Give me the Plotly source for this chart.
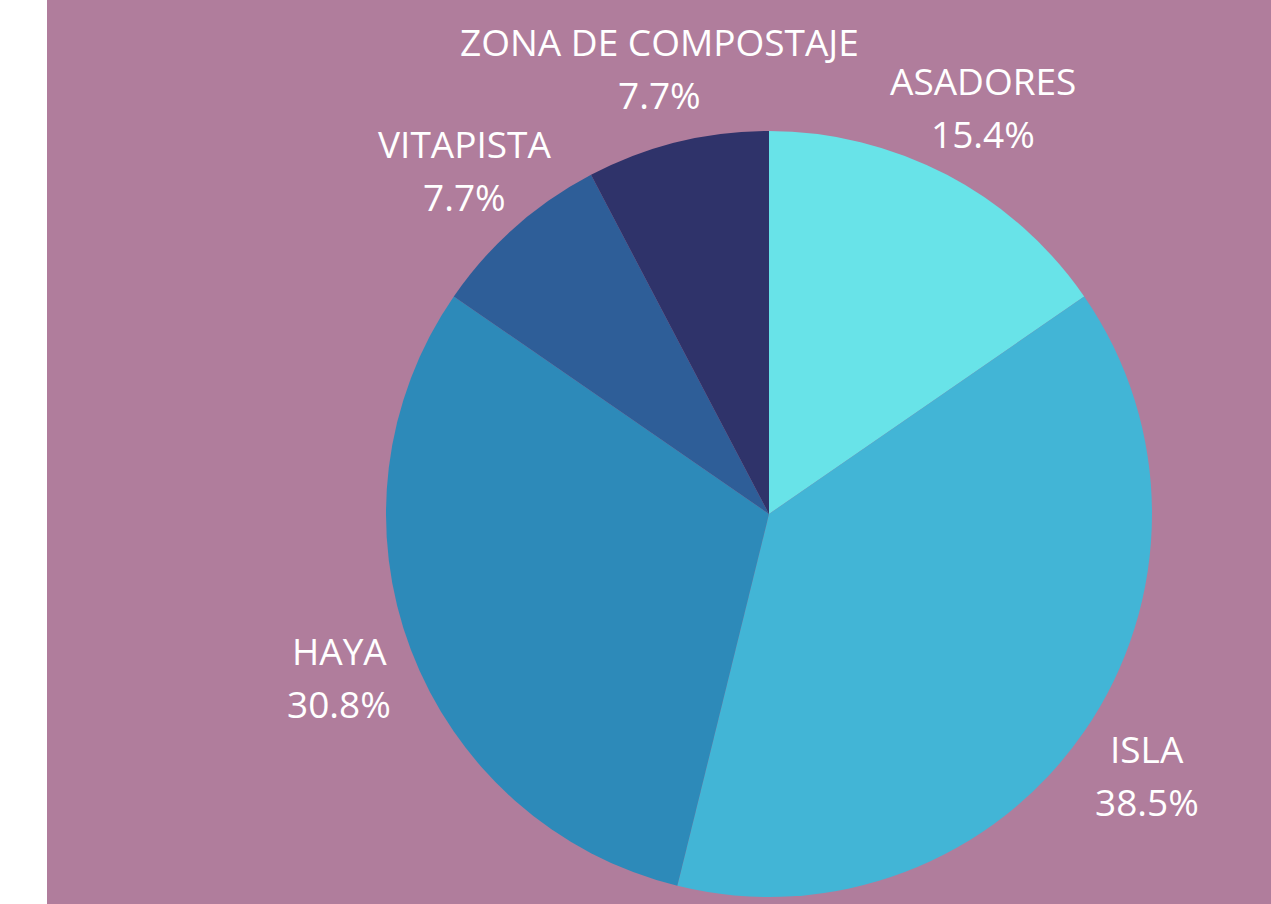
import math
import plotly.graph_objects as go

# ---- data ----
labels = ["ASADORES", "ISLA", "HAYA", "VITAPISTA", "ZONA DE COMPOSTAJE"]
values = [2, 5, 4, 1, 1]
colors = ["#68E3E8", "#42B5D6", "#2D8AB9", "#2E5E98", "#2F336A"]

# ---- layout geometry (pixels) ----
W, H = 1271, 904
ML = 47
PW, PH = W - ML, H
CX, CY, R = 769, 514, 383
LABEL_FACTOR = 1.2
LINE_OFF = 26.5
BG = "#B07D9C"
FONT = "Open Sans"
FONT_SIZE = 37

fig = go.Figure(
    go.Pie(
        labels=labels,
        values=values,
        marker=dict(colors=colors, line=dict(width=0)),
        sort=False,
        direction="clockwise",
        rotation=0,
        textinfo="none",
        hoverinfo="label+percent",
        showlegend=False,
        domain=dict(
            x=[(CX - ML) / PW - 0.4, (CX - ML) / PW + 0.4],
            y=[(H - (CY + R)) / PH, (H - (CY - R)) / PH],
        ),
    )
)

total = sum(values)
annotations = []
cum = 0
for lab, v in zip(labels, values):
    theta = 2 * math.pi * (cum + v / 2) / total
    cum += v
    d = R * LABEL_FACTOR
    lx = CX + d * math.sin(theta)
    ly = CY - d * math.cos(theta)
    pct = f"{100 * v / total:.1f}%"
    for txt, yy in ((lab, ly - LINE_OFF), (pct, ly + LINE_OFF)):
        annotations.append(
            dict(
                text=txt,
                x=(lx - ML) / PW,
                y=(H - yy) / PH,
                xref="paper",
                yref="paper",
                xanchor="center",
                yanchor="middle",
                showarrow=False,
                font=dict(family=FONT, size=FONT_SIZE, color="white"),
            )
        )

fig.update_layout(
    width=W,
    height=H,
    margin=dict(l=ML, r=0, t=0, b=0),
    paper_bgcolor="white",
    plot_bgcolor=BG,
    font=dict(family=FONT, color="white"),
    shapes=[
        dict(
            type="rect",
            xref="paper",
            yref="paper",
            x0=0,
            x1=1,
            y0=0,
            y1=1,
            fillcolor=BG,
            line=dict(width=0),
            layer="below",
        )
    ],
    annotations=annotations,
)

fig.write_html(
    "out.html",
    config={"displayModeBar": False},
    post_script="document.body.style.margin='0';document.body.style.overflow='hidden';",
)
